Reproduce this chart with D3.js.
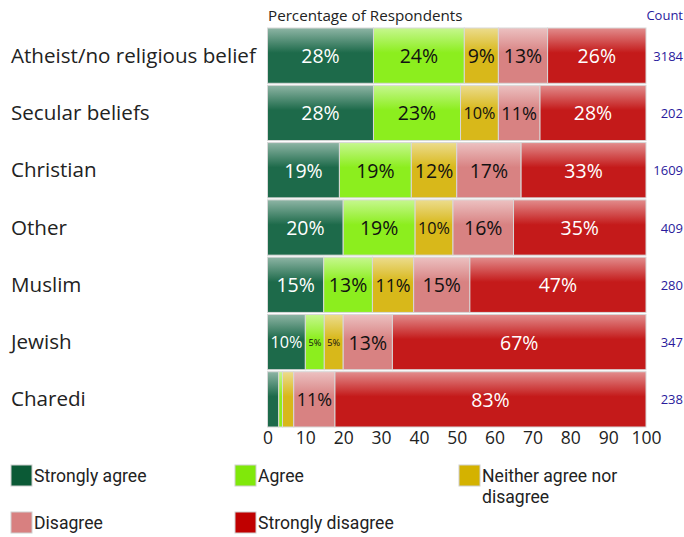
<!DOCTYPE html>
<html>
<head>
<meta charset="utf-8">
<script src="https://cdn.jsdelivr.net/npm/d3@7"></script>
<style>
  html, body { margin: 0; padding: 0; background: #fff; }
  svg { display: block; font-family: "Open Sans", "Noto Sans", sans-serif; }
</style>
</head>
<body>
<svg id="chart" width="684" height="537"></svg>
<script>
// Religious groups, top to bottom
const categories = ["Atheist/no religious belief", "Secular beliefs", "Christian", "Other", "Muslim", "Jewish", "Charedi"];
// Response options, left to right
const responses = ["Strongly agree", "Agree", "Neither agree nor disagree", "Disagree", "Strongly disagree"];
// Percentage of respondents per response, one array per group
const stronglyAgree    = [28, 28, 19, 20, 15, 10, 3];
const agree            = [24, 23, 19, 19, 13, 5, 1];
const neither          = [9, 10, 12, 10, 11, 5, 3];
const disagree         = [13, 11, 17, 16, 15, 13, 11];
const stronglyDisagree = [26, 28, 33, 35, 47, 67, 83];
// Number of respondents per group
const counts = [3184, 202, 1609, 409, 280, 347, 238];
const xTicks = [0, 10, 20, 30, 40, 50, 60, 70, 80, 90, 100];

const seriesValues = [stronglyAgree, agree, neither, disagree, stronglyDisagree];
const barColors    = ["#1d6a4a", "#8cee1e", "#d8b81a", "#d88282", "#c41a1a"];
const legendColors = ["#0b5a36", "#80e80a", "#d4b200", "#d88080", "#c00000"];
const labelColors  = ["#fff", "#111", "#111", "#111", "#fff"];

const svg = d3.select("#chart");
const margin = { left: 267.5, right: 646, top: 28, bottom: 427 };

const x = d3.scaleLinear().domain([0, 100]).range([margin.left, margin.right]);
const y = d3.scaleBand().domain(categories).range([margin.top, margin.bottom]).paddingInner(0.035);

// Glossy top highlight for each response colour
const defs = svg.append("defs");
barColors.forEach((c, i) => {
  const g = defs.append("linearGradient").attr("id", "grad" + i)
    .attr("x1", 0).attr("y1", 0).attr("x2", 0).attr("y2", 1);
  g.append("stop").attr("offset", "0%").attr("stop-color", d3.interpolateRgb(c, "#fff")(0.5));
  g.append("stop").attr("offset", "45%").attr("stop-color", c);
  g.append("stop").attr("offset", "100%").attr("stop-color", c);
});

// Build segment list: each row is scaled to its own total so it spans 0-100
const rows = categories.map((cat, ci) => {
  const vals = seriesValues.map(s => s[ci]);
  const total = d3.sum(vals);
  let acc = 0;
  return vals.map((v, si) => {
    const x0 = acc / total * 100;
    acc += v;
    const x1 = acc / total * 100;
    return { cat, si, v, x0, x1 };
  });
});

const rowG = svg.append("g").selectAll("g").data(rows).join("g");

const seg = rowG.selectAll("g").data(d => d).join("g");

seg.append("rect")
  .attr("x", d => x(d.x0))
  .attr("y", d => y(d.cat))
  .attr("width", d => Math.max(0, x(d.x1) - x(d.x0)))
  .attr("height", y.bandwidth())
  .attr("fill", d => `url(#grad${d.si})`)
  .attr("stroke", "#d8d8d8")
  .attr("stroke-width", 1);

// Value labels, shrunk to fit narrow segments
const labelSize = 19.5;
seg.filter(d => d.v >= 5).append("text")
  .attr("x", d => (x(d.x0) + x(d.x1)) / 2)
  .attr("y", d => y(d.cat) + y.bandwidth() / 2)
  .attr("text-anchor", "middle")
  .attr("dominant-baseline", "central")
  .attr("fill", d => labelColors[d.si])
  .style("font-size", labelSize + "px")
  .text(d => d.v + "%")
  .each(function(d) {
    const w = x(d.x1) - x(d.x0) - 6;
    const len = this.getComputedTextLength();
    if (len > w) d3.select(this).style("font-size", (labelSize * w / len).toFixed(1) + "px");
  });

// Group names
svg.append("g").selectAll("text").data(categories).join("text")
  .attr("x", 11)
  .attr("y", d => y(d) + y.bandwidth() / 2 + 7)
  .attr("fill", "#222")
  .style("font-size", "20.6px")
  .text(d => d);

// Respondent counts
svg.append("g").selectAll("text").data(counts).join("text")
  .attr("x", 683)
  .attr("y", (d, i) => y(categories[i]) + y.bandwidth() / 2 + 5)
  .attr("text-anchor", "end")
  .attr("fill", "#2a1a9c")
  .style("font-size", "13px")
  .text(d => d);

svg.append("text").attr("x", 683).attr("y", 20).attr("text-anchor", "end")
  .attr("fill", "#2a1a9c").style("font-size", "13px").text("Count");

svg.append("text").attr("x", 268).attr("y", 21)
  .attr("fill", "#222").style("font-size", "15.2px").text("Percentage of Respondents");

// Bottom axis
const axis = svg.append("g")
  .attr("transform", `translate(0,${margin.bottom})`)
  .call(d3.axisBottom(x).tickValues(xTicks).tickSize(0).tickPadding(5));
axis.select(".domain").remove();
axis.selectAll("text").attr("fill", "#222").style("font-size", "17.5px")
  .style("font-family", "\"Open Sans\", sans-serif");

// Legend
const legendItems = [
  { x: 11, y: 465, lines: ["Strongly agree"] },
  { x: 235, y: 465, lines: ["Agree"] },
  { x: 459, y: 465, lines: ["Neither agree nor", "disagree"] },
  { x: 11, y: 512, lines: ["Disagree"] },
  { x: 235, y: 512, lines: ["Strongly disagree"] }
];
const leg = svg.append("g").selectAll("g").data(responses).join("g")
  .attr("transform", (d, i) => `translate(${legendItems[i].x},${legendItems[i].y})`);
leg.append("rect").attr("width", 21).attr("height", 21)
  .attr("fill", (d, i) => legendColors[i]).attr("stroke", "#cfcfcf").attr("stroke-width", 1);
leg.each(function(d, i) {
  const t = d3.select(this).append("text").attr("x", 23).attr("y", 17)
    .attr("fill", "#222")
    .style("font-family", "Roboto, sans-serif")
    .style("font-size", "17.6px");
  legendItems[i].lines.forEach((ln, k) => {
    t.append("tspan").attr("x", 23).attr("dy", k === 0 ? 0 : 21).text(ln);
  });
});
</script>
</body>
</html>
